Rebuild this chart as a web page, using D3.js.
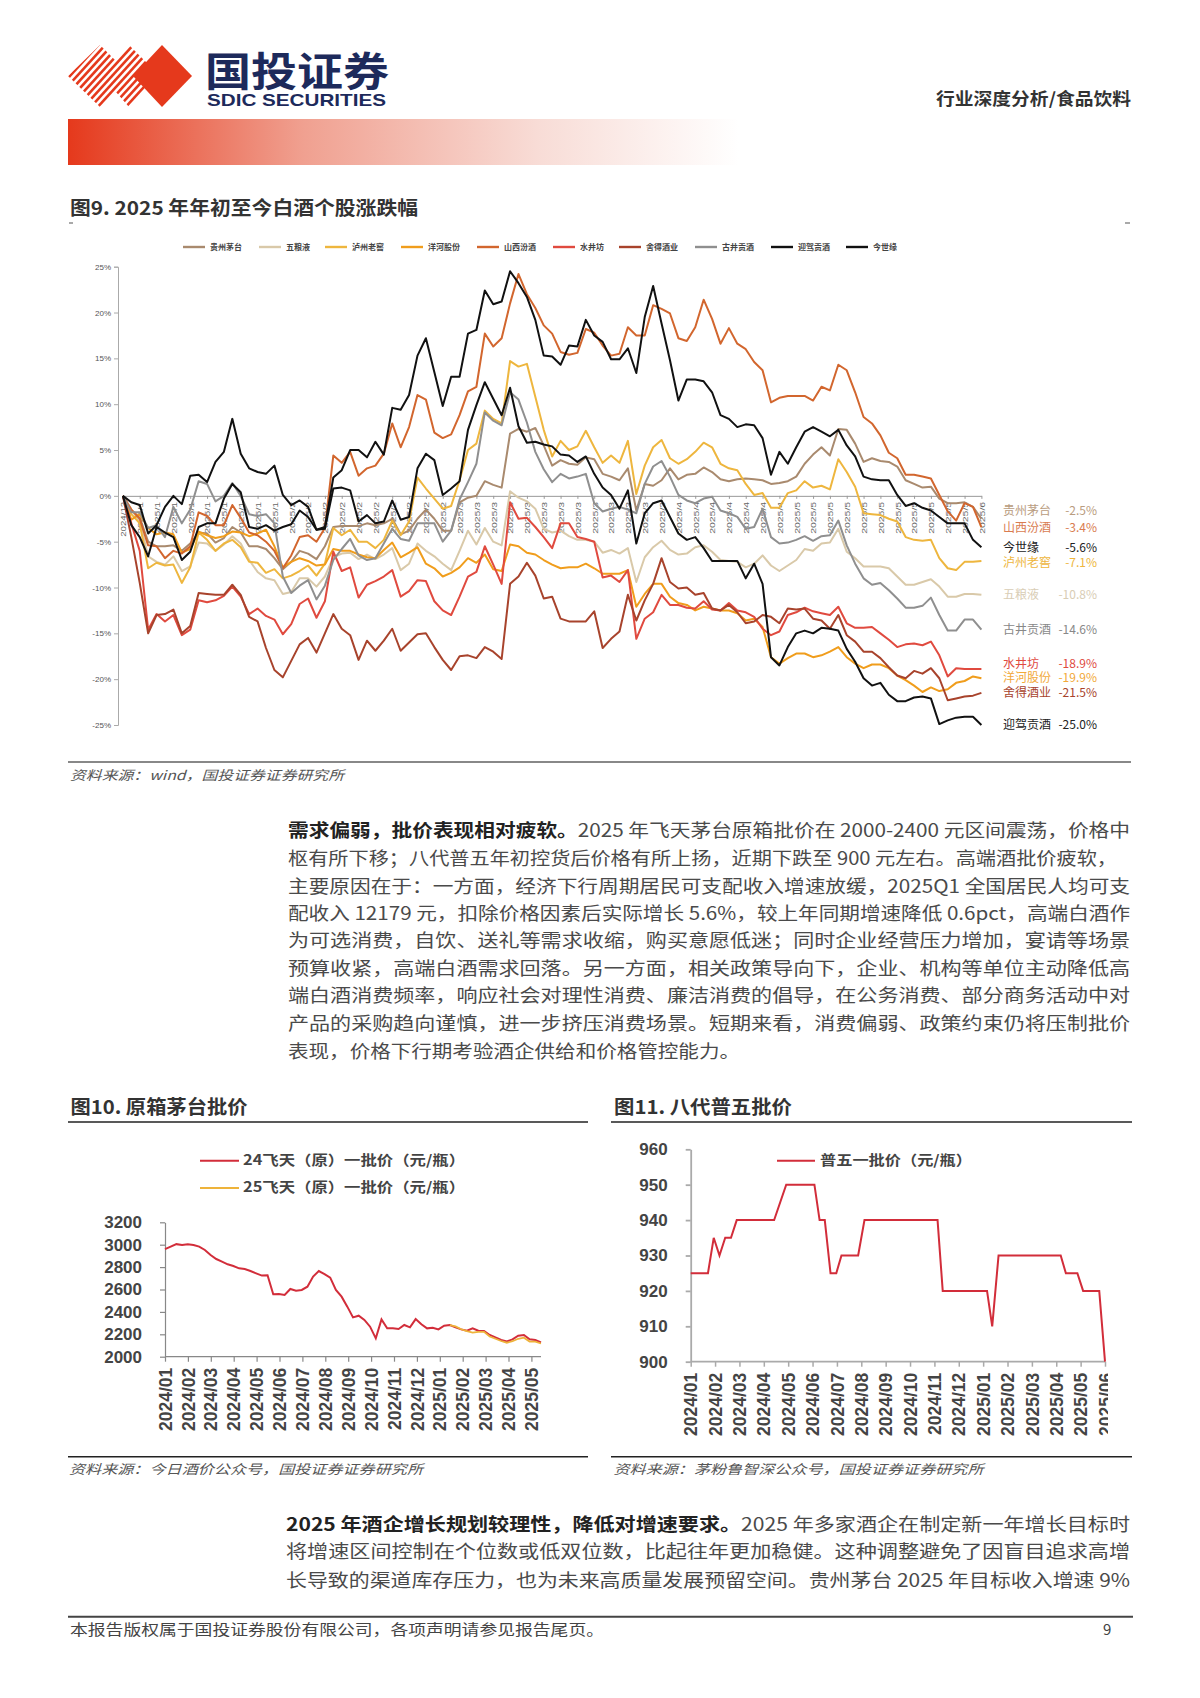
<!DOCTYPE html>
<html lang="zh"><head><meta charset="utf-8">
<script src="https://cdn.jsdelivr.net/npm/d3@7"></script>
<style>html,body{margin:0;padding:0;background:#fff}svg{display:block}
text{font-family:"Noto Sans CJK SC","Noto Sans",sans-serif}</style></head>
<body><svg id="page" width="1200" height="1698" viewBox="0 0 1200 1698"></svg>
<script>
// ---------- Figure 9: cumulative change (%) ----------
const names9 = ["贵州茅台","五粮液","泸州老窖","洋河股份","山西汾酒","水井坊","舍得酒业","古井贡酒","迎驾贡酒","今世缘"];
const colors9 = ["#a98a6e","#d9c9a9","#eeb63e","#f09d1c","#d2662e","#e04a3f","#a8432c","#8f8f8f","#111111","#111111"];
const maotai = [0,-1.5,-2.4,-5.0,-5.5,-5.5,-5.4,-6,-5.2,-4,-4.1,-5.1,-4.6,-3.4,-4,-5.5,-5.5,-5.8,-6.8,-8,-7.2,-6,-6.3,-6.9,-5.5,-3.4,-3.3,-3.3,-3.3,-3,-3.2,-3,-2.5,-4.2,-3.8,-2.5,-1.5,-2.5,-3.8,-3.8,-.7,-.2,0,1.6,1.2,.9,6.8,7.3,7,7.4,5.5,3.3,3.9,3.5,3.4,4.2,4,2.4,2.1,1.7,3,-1.6,1.3,1.1,1.7,3,1.8,2.3,2.4,3.1,2.6,1.8,1.6,1.8,1.9,1.8,1.7,1.3,1.4,1.6,2.1,3.5,4.5,5.3,4.4,7.3,7.2,5.7,3.7,4.1,3.8,3.7,3.2,1.7,1.3,.9,1,-.3,-.8,-.8,-.7,-1.2,-2.5];
const wuliangye = [0,-1.5,-2.8,-6.6,-7.2,-7.5,-6.6,-8.2,-7.7,-5.1,-5.2,-6,-5.3,-4.4,-5.2,-7,-8.3,-9,-9.2,-10.7,-10.5,-9,-9,-9.9,-8.8,-6.7,-6.3,-6.2,-6.9,-6.4,-6.9,-6.4,-5.7,-8.1,-7.4,-5.2,-6,-6.6,-7.4,-8.1,-6,-3.8,-5.3,-3.5,-5,-5.4,.5,-.2,-.6,-1.4,-3.6,-4,-3.8,-4.4,-4.8,-4.8,-5,-6.2,-5.9,-6.3,-5.7,-9.4,-6.7,-5.6,-4.9,-5.9,-6.4,-6.3,-5.6,-5.4,-6.1,-7,-7.1,-7.2,-7.8,-7.4,-6.5,-7.6,-8.2,-7.6,-7,-5.8,-6,-5.2,-5.1,-3.6,-6.1,-6.8,-7.7,-7.7,-7.7,-7.9,-8.8,-9.7,-9.7,-9.4,-9.1,-9.9,-11,-11,-10.7,-10.7,-10.8];
const luzhou = [0,-2,-3,-7.9,-7.3,-7.6,-7.5,-9.5,-7.8,-4,-4.8,-6,-5.2,-4.8,-5.6,-7.2,-7.3,-8.4,-8,-9,-8.7,-8.2,-7.6,-8.7,-7.4,-3.5,-4.3,-3.7,-5,-5,-5.7,-4.8,-2.7,-4.3,-2.8,2,.8,-.3,-1.4,-1.1,1.7,5,5.7,9.3,8.4,7.9,14.7,14.1,14.4,10.8,7.2,4.3,6,5,5.4,7.1,5.3,3.6,4.4,3.6,6,.2,3.3,5.3,6.1,4.1,3.5,4,4.8,5.8,5.3,3.5,3,2.8,1.3,.1,.3,-1.3,-1.3,.3,.6,1.6,.9,1.1,.7,4,2.6,1,-1.9,-2,-2.1,-2.5,-2.8,-4.5,-4.8,-4.9,-4.8,-6.8,-7.9,-8.1,-7.2,-7.2,-7.1];
const yanghe = [0,-2.6,-2,-3.5,-4.2,-4,-4.2,-6.2,-5.8,-3.9,-4.3,-4.6,-4.4,-3.9,-4,-4.4,-4.1,-3.7,-5.5,-7.8,-7.2,-6.8,-7.1,-7.6,-7.5,-5.8,-6,-6,-6.4,-6.7,-6.8,-5.9,-5.1,-6.7,-6.2,-5.6,-7.4,-7.9,-8.8,-8.4,-7.8,-6.8,-7.3,-6.4,-8,-8.2,-5.3,-5.5,-6.2,-6.4,-7,-7.5,-7.9,-7.8,-7.8,-7.4,-7.9,-8.5,-8.5,-8.5,-8.1,-12.1,-10.7,-9.6,-9.6,-11,-11.7,-11.9,-12.5,-12.1,-12.3,-12.5,-12.5,-12.8,-13.6,-13.4,-14.3,-17.6,-18.3,-17.7,-17.2,-17.2,-17.6,-17.4,-17,-16.5,-17.6,-18.3,-18.8,-18.4,-18.4,-18.8,-19.6,-20.1,-20.7,-21.4,-20.9,-21.3,-21.1,-20.4,-20.2,-19.7,-19.9];
const fenjiu = [0,-1.5,-2.5,-5.4,-5.5,-6.8,-6,-6.3,-5.5,-1.8,-2.2,-3.2,-3.2,-1,-2.4,-4,-4.3,-5,-6,-7.9,-6.5,-4.5,-4.3,-5,-3.5,4.4,3.6,4.8,2.2,3,3.3,4.6,7.9,5.3,7.5,11,10.5,6.9,6.3,6.7,8.8,11.4,11.9,17.7,16.3,17.2,21,24.2,22,20.5,18.6,17.7,15.7,15.4,15.6,18.2,17.8,16.4,15.3,15.5,18.4,17.5,17.5,20.8,20.4,19.9,17.2,16.9,18.4,21.4,19.3,16.6,18.3,16.6,16,14.6,13.7,10.2,10.7,10.9,10.9,10.9,10.4,11.9,11.5,14.3,13.7,11.3,8.6,7.9,6.6,4.7,4.1,2.3,2.3,2.1,1.9,.1,-1.7,-2.7,-.8,-1.2,-3.4];
const shuijingfang = [0,-3,-6,-14.6,-12.9,-13.7,-13,-15.2,-14.6,-11.4,-11.6,-11.4,-10.9,-9.9,-11,-12.9,-12.3,-13.1,-13.5,-15.1,-14,-11.8,-11.2,-13.3,-11.5,-6.1,-8.2,-7.8,-11.1,-9.7,-9.3,-8.8,-8.1,-11,-10.4,-9.2,-9.3,-11.5,-12.5,-13,-11,-8.8,-8.3,-5.5,-7.5,-9.6,-.7,-2.5,-2.4,-3.4,-4.5,-5.7,-3,-3,-4.5,-4.7,-5,-8.9,-8.7,-9.4,-8.1,-15.6,-13.4,-12.7,-10.8,-11.9,-11.9,-12.2,-12.3,-11.5,-12.4,-12.5,-11.7,-12.5,-12.7,-13.2,-14.5,-15.2,-14.8,-13,-12.7,-12.2,-12.6,-12.8,-13,-12.1,-13.9,-14.4,-14.4,-14.3,-15,-15.7,-16.5,-16.2,-16.1,-16.3,-15.9,-17.4,-19.7,-18.8,-18.9,-18.9,-18.9];
const shede = [0,-4.5,-9.5,-15,-13,-12.9,-12.4,-15,-14.2,-10.6,-10.7,-10.8,-10.8,-9.7,-10.8,-13.2,-13.7,-16.6,-19,-19.8,-18,-16.2,-15.5,-17.1,-15,-12.9,-14.5,-15.2,-17.9,-15.8,-16.9,-15.8,-14.5,-16.9,-16,-15.1,-15,-16.5,-17.9,-19,-17.5,-17.4,-17.7,-16.5,-17,-17.8,-9.6,-8.8,-7.3,-8.7,-11.2,-11,-13.4,-13.7,-13.7,-13.7,-12.6,-16.6,-15.6,-14.8,-10.8,-13.6,-11.4,-9.6,-6.8,-9.4,-10.1,-10,-10.8,-10.6,-12.3,-12.5,-11.9,-12.7,-13.9,-13.7,-13,-13.2,-13.9,-12.3,-12.4,-12.3,-13.4,-13.6,-14.5,-13,-15.2,-15.9,-17,-17,-17.7,-18.7,-19.6,-19.9,-19.1,-19.4,-18.8,-19.9,-22.3,-22.1,-21.9,-21.8,-21.5];
const gujing = [0,-1.8,-1.8,-3.5,-3.2,-4.5,-1.2,-3,-1.5,1.6,1.3,-.6,0,1.4,0,-2,-2.2,-2,-3,-8.8,-10.6,-9.8,-9.2,-11.3,-9.8,-7,-5.8,-4.7,-6.5,-7,-6.8,-5.2,-3.6,-4.7,-4.9,-3,-3,-3,-5,-3.8,-.4,1.5,3.5,9.1,8.2,7.7,11.3,10.5,8,4.8,2.9,1.5,2.4,1.9,2.1,2.4,-.8,-1.7,-1.4,-1.2,-1.5,-1.9,1.3,3.2,3.8,2.1,.1,-.5,-.8,-.3,-.1,-1.6,-1.9,-2.3,-3.6,-3.4,-1.4,-4.5,-5.2,-5.1,-4.8,-4.4,-4.9,-4.4,-4.3,-2.7,-5.4,-7.4,-9,-9.7,-9.5,-10.3,-11.2,-12.2,-12.2,-12,-11.1,-13,-14.7,-14.7,-13.5,-13.5,-14.6];
const yingjia = [0,-3.2,-4.5,-6.6,-3.4,-4,-4.5,-7,-6.1,-3.4,-3,-3,-.3,1.3,.4,-3.4,-3.6,-3.2,-3.8,-3.4,-3.1,-1.6,-2.3,-3.7,-3.6,.8,.9,.6,-2.8,-2.1,-3,-2.8,-.5,-2.6,-2.3,3,4.6,3.9,.1,.8,1.6,7.2,9.9,12.4,10.6,8.8,11.8,7.6,5.8,5.9,5.6,5.4,4.5,4.4,3.7,4.3,2.4,.9,.1,-1.4,.6,-5.2,-1.9,-.8,-.5,-2.3,-4.1,-4.8,-4.5,-5.7,-7.1,-7.1,-7.1,-7.1,-9,-7.4,-9.6,-17.6,-18.5,-16.5,-15,-14.7,-15,-14.4,-14.5,-14.7,-16.7,-18.1,-19.9,-20.7,-20.4,-21.7,-22.4,-22.4,-22,-21.9,-22.1,-24.9,-24.5,-24.2,-24.1,-24.1,-25];
const jinshiyuan = [0,-.7,-1,-4.1,-3.2,-1.2,0,-.9,2.2,2.3,1.5,3.7,4.8,8.4,4.6,3,2.6,2.4,3.3,.1,-1,-.5,-1.2,-3.7,-3.4,2,2.8,5,5,4.2,5.9,4.5,9.6,9.4,11,15.3,17.2,13.5,9.8,13,13,17.7,18.1,22.4,20.9,21.2,24.5,23.2,21.7,19.2,15.3,15.2,14.3,16.4,16.3,19.2,17.5,16.8,14.9,14.9,16.1,13.4,19.5,22.9,18.8,14.8,10.4,12.7,12.7,12.5,11.3,8.8,8.4,7.5,7.8,7.7,6.3,2.3,4.8,3.5,5.3,7,7.5,7,6.5,7.2,5.5,4.3,2.1,1.8,1.7,1.7,.1,-1.1,-.8,-1.3,-1.6,-2.3,-3,-3,-3,-4.8,-5.6];
const series9 = [maotai,wuliangye,luzhou,yanghe,fenjiu,shuijingfang,shede,gujing,yingjia,jinshiyuan];
const yTicks9 = [25,20,15,10,5,0,-5,-10,-15,-20,-25];
const xLabels9 = ["2024/12","2025/1","2025/1","2025/1","2025/1","2025/1","2025/1","2025/1","2025/1","2025/1","2025/2","2025/2","2025/2","2025/2","2025/2","2025/2","2025/2","2025/2","2025/2","2025/2","2025/3","2025/3","2025/3","2025/3","2025/3","2025/3","2025/3","2025/3","2025/3","2025/3","2025/3","2025/3","2025/3","2025/4","2025/4","2025/4","2025/4","2025/4","2025/4","2025/4","2025/5","2025/5","2025/5","2025/5","2025/5","2025/5","2025/5","2025/5","2025/5","2025/5","2025/5","2025/6"];
// end-of-line labels, top to bottom
const endNames = ["贵州茅台","山西汾酒","今世缘","泸州老窖","五粮液","古井贡酒","水井坊","洋河股份","舍得酒业","迎驾贡酒"];
const endValues = ["-2.5%","-3.4%","-5.6%","-7.1%","-10.8%","-14.6%","-18.9%","-19.9%","-21.5%","-25.0%"];
const endColors = ["#b99c80","#d97c50","#222","#eeb63e","#d9cdb5","#888","#e04a3f","#f2a93a","#a8432c","#222"];
const endY = [511.7,528.3,548.3,563.3,595.7,630,664,678,693,725];

// ---------- Figure 10: Moutai wholesale price ----------
const months10 = ["2024/01","2024/02","2024/03","2024/04","2024/05","2024/06","2024/07","2024/08","2024/09","2024/10","2024/11","2024/12","2025/01","2025/02","2025/03","2025/04","2025/05"];
const yTicks10 = [2000,2200,2400,2600,2800,3000,3200];
const feitian24 = [2960,2983,3005,2998,3005,2998,2983,2953,2908,2872,2849,2825,2810,2789,2783,2765,2744,2724,2727,2557,2560,2551,2605,2590,2596,2625,2715,2765,2738,2706,2596,2536,2447,2351,2366,2328,2268,2164,2333,2253,2253,2247,2283,2262,2336,2289,2253,2259,2244,2277,2283,2262,2244,2232,2253,2232,2229,2194,2173,2149,2137,2155,2188,2194,2155,2149,2128];
const feitian25Start = 50;
const feitian25 = [2283,2270,2245,2228,2215,2222,2222,2180,2160,2140,2125,2138,2160,2170,2135,2135,2118];
const legend10 = ["24飞天（原）一批价（元/瓶）","25飞天（原）一批价（元/瓶）"];

// ---------- Figure 11: Wuliangye wholesale price ----------
const months11 = ["2024/01","2024/02","2024/03","2024/04","2024/05","2024/06","2024/07","2024/08","2024/09","2024/10","2024/11","2024/12","2025/01","2025/02","2025/03","2025/04","2025/05","2025/06"];
const yTicks11 = [900,910,920,930,940,950,960];
const puwuWeek = [0,3,4,5,6,7,8,14.5,16.6,21.5,22.4,23.3,24.3,25.3,26.2,29.1,30.2,42.9,43.8,51.5,52.4,53.5,64.3,65.2,67.2,68.2,71,72];
const puwuPrice = [925,925,935,930,935,935,940,940,950,950,940,940,925,925,930,930,940,940,920,920,910,930,930,925,925,920,920,900];

// ---------- Text ----------
const para1 = [
 ["需求偏弱，批价表现相对疲软。","2025 年飞天茅台原箱批价在 2000-2400 元区间震荡，价格中"],
 ["","枢有所下移；八代普五年初控货后价格有所上扬，近期下跌至 900 元左右。高端酒批价疲软，"],
 ["","主要原因在于：一方面，经济下行周期居民可支配收入增速放缓，2025Q1 全国居民人均可支"],
 ["","配收入 12179 元，扣除价格因素后实际增长 5.6%，较上年同期增速降低 0.6pct，高端白酒作"],
 ["","为可选消费，自饮、送礼等需求收缩，购买意愿低迷；同时企业经营压力增加，宴请等场景"],
 ["","预算收紧，高端白酒需求回落。另一方面，相关政策导向下，企业、机构等单位主动降低高"],
 ["","端白酒消费频率，响应社会对理性消费、廉洁消费的倡导，在公务消费、部分商务活动中对"],
 ["","产品的采购趋向谨慎，进一步挤压消费场景。短期来看，消费偏弱、政策约束仍将压制批价"],
 ["","表现，价格下行期考验酒企供给和价格管控能力。"]];
const para2 = [
 ["2025 年酒企增长规划较理性，降低对增速要求。","2025 年多家酒企在制定新一年增长目标时"],
 ["","将增速区间控制在个位数或低双位数，比起往年更加稳健。这种调整避免了因盲目追求高增"],
 ["","长导致的渠道库存压力，也为未来高质量发展预留空间。贵州茅台 2025 年目标收入增速 9%"]];

const svg = d3.select("#page");
const TXT = "#3c3c3c";
const LAT = "'Liberation Sans',Arial,sans-serif";
const NUDGE = -2; // CJK glyphs sit low under central baseline
function label(x,y,s,o={}){
  const t = svg.append("text").attr("x",x).attr("y",y+NUDGE).attr("dominant-baseline","central")
    .attr("font-size",o.size||14).attr("font-weight",o.weight||400).attr("fill",o.fill||TXT)
    .attr("text-anchor",o.anchor||"start").text(s);
  if(o.italic) t.attr("font-style","italic");
  if(o.len) t.attr("textLength",o.len).attr("lengthAdjust","spacingAndGlyphs");
  if(o.family) t.style("font-family",o.family);
  return t;
}
function rule(x1,x2,y,c,w){svg.append("line").attr("x1",x1).attr("x2",x2).attr("y1",y).attr("y2",y).attr("stroke",c).attr("stroke-width",w);}

// ---------- Header ----------
const defs = svg.append("defs");
const grad = defs.append("linearGradient").attr("id","barGrad");
grad.append("stop").attr("offset","0%").attr("stop-color","#e5391c");
grad.append("stop").attr("offset","35%").attr("stop-color","#f0a090");
grad.append("stop").attr("offset","70%").attr("stop-color","#f8dcd6");
grad.append("stop").attr("offset","100%").attr("stop-color","#ffffff");
svg.append("rect").attr("x",68).attr("y",119).attr("width",671).attr("height",46).attr("fill","url(#barGrad)");
defs.append("clipPath").attr("id","logoClip").append("path")
  .attr("d","M68,76 L100,45 L116,61 L129,45 L160,76 L129,107 L116,92 L100,107 Z");
const lg = svg.append("g").attr("clip-path","url(#logoClip)");
d3.range(-10,16).forEach(k=>{
  lg.append("line").attr("x1",60+k*7).attr("y1",110).attr("x2",60+k*7+62).attr("y2",42)
    .attr("stroke","#e5391c").attr("stroke-width",2.6);
});
svg.append("path").attr("d","M162,45 L192,76 L162,107 L133,76 Z").attr("fill","#e5391c");
label(205,71,"国投证券",{size:40,weight:700,fill:"#1d2a5b",len:184});
label(207,102,"SDIC SECURITIES",{size:17,weight:700,fill:"#1d2a5b",len:179,family:LAT});
label(936,99.5,"行业深度分析/食品饮料",{size:17,weight:700,len:195,fill:"#333"});

// ---------- Figure 9 ----------
label(70,208,"图9. 2025 年年初至今白酒个股涨跌幅",{size:19,weight:700,len:348,fill:"#333"});
svg.append("rect").attr("x",69).attr("y",222.5).attr("width",4).attr("height",1).attr("fill","#555");
svg.append("rect").attr("x",1125).attr("y",222.5).attr("width",5).attr("height",1).attr("fill","#555");

const legX9 = [183,259,325,401,477,553,619,695,771,846];
names9.forEach((n,i)=>{
  const x = legX9[i];
  svg.append("line").attr("x1",x).attr("x2",x+22).attr("y1",247).attr("y2",247).attr("stroke",colors9[i]).attr("stroke-width",2.4);
  label(x+27,248,n,{size:8,weight:700,fill:"#444"});
});

const x9 = d3.scalePoint().domain(d3.range(maotai.length)).range([122.9,981.4]);
const y9 = d3.scaleLinear().domain([-25,25]).range([725,266.7]);
const axY9 = svg.append("g").attr("transform","translate(118,0)")
  .call(d3.axisLeft(y9).tickValues(yTicks9).tickFormat(d=>d+"%").tickSize(4).tickPadding(3));
axY9.selectAll("path,line").attr("stroke","#aaa").attr("stroke-width",1);
axY9.selectAll("text").attr("font-size",8).attr("fill","#555").style("font-family",LAT);
const evenIdx = x9.domain().filter(i=>i%2===0);
const axX9 = svg.append("g").attr("transform",`translate(0,${y9(0)})`)
  .call(d3.axisBottom(x9).tickValues(evenIdx).tickFormat(i=>xLabels9[i/2]).tickSize(3).tickSizeOuter(0));
axX9.selectAll("path,line").attr("stroke","#999").attr("stroke-width",1);
axX9.selectAll("text").attr("transform","rotate(-90)").attr("text-anchor","end").attr("x",-6).attr("y",0).attr("dy","0.35em")
  .attr("font-size",8).attr("fill","#666").style("font-family",LAT)
  .attr("textLength",d=>xLabels9[d/2].length===7?35:32).attr("lengthAdjust","spacingAndGlyphs");
const line9 = d3.line().x((d,i)=>x9(i)).y(d=>y9(d));
series9.forEach((s,i)=>{
  svg.append("path").datum(s).attr("d",line9).attr("fill","none").attr("stroke",colors9[i]).attr("stroke-width",2).attr("stroke-linejoin","round");
});
endNames.forEach((n,i)=>{
  label(1003,endY[i],n,{size:12,fill:endColors[i]});
  label(1097,endY[i],endValues[i],{size:12,fill:endColors[i],anchor:"end"});
});
rule(68,1131,762,"#888",2);
label(70,776,"资料来源：wind，国投证券证券研究所",{size:13,italic:true,len:274,fill:"#555"});

// ---------- Paragraphs ----------
function para(lines,x,ys,lens){
  lines.forEach((l,i)=>{
    const t = svg.append("text").attr("x",x).attr("y",ys[i]+NUDGE).attr("dominant-baseline","central").attr("font-size",18).attr("fill","#4a4a4a")
      .attr("textLength",lens[i]).attr("lengthAdjust","spacingAndGlyphs");
    if(l[0]) t.append("tspan").attr("font-weight",700).attr("fill","#222").text(l[0]);
    t.append("tspan").text(l[1]);
  });
}
para(para1,288,[830.7,859,886.7,914,941,969,996,1024,1051.7],[842,829,842,842,842,842,842,842,452]);
para(para2,286,[1525,1552,1581],[844,844,844]);

// ---------- Figure 10 ----------
label(70.5,1107,"图10. 原箱茅台批价",{size:19,weight:700,len:177,fill:"#333"});
rule(68,588,1122,"#222",1.5);
const x10 = d3.scaleLinear().domain([0,feitian24.length-1]).range([165,541]);
const m10 = d3.scalePoint().domain(months10).range([165,165+22.9*16]);
const y10 = d3.scaleLinear().domain([2000,3200]).range([1356.7,1222.3]);
const ay10 = svg.append("g").attr("transform","translate(165,0)").call(d3.axisLeft(y10).tickValues(yTicks10).tickFormat(d3.format("d")).tickSize(5).tickPadding(18).tickSizeOuter(0));
ay10.selectAll("path,line").attr("stroke","#888").attr("stroke-width",1.2);
ay10.selectAll("text").attr("font-size",17).attr("font-weight",700).attr("fill","#444").style("font-family",LAT);
const ax10 = svg.append("g").attr("transform","translate(0,1356.7)").call(d3.axisBottom(m10).tickSize(5).tickSizeOuter(0));
svg.append("line").attr("x1",165).attr("x2",541).attr("y1",1356.7).attr("y2",1356.7).attr("stroke","#888").attr("stroke-width",1.2);
ax10.selectAll("path").attr("stroke","none");
ax10.selectAll("line").attr("stroke","#888").attr("stroke-width",1.2);
ax10.selectAll("text").attr("transform","rotate(-90)").attr("text-anchor","end").attr("x",-11).attr("y",0).attr("dy","0.35em")
  .attr("font-size",17.5).attr("font-weight",700).attr("fill","#444").style("font-family",LAT);
const line10 = d3.line().x(d=>x10(d[0])).y(d=>y10(d[1]));
svg.append("path").datum(feitian24.map((v,i)=>[i,v])).attr("d",line10).attr("fill","none").attr("stroke","#d22d3a").attr("stroke-width",2);
svg.append("path").datum(feitian25.map((v,i)=>[i+feitian25Start,v])).attr("d",line10).attr("fill","none").attr("stroke","#eeb33a").attr("stroke-width",1.8);
[["#d22d3a",1160.7],["#eeb33a",1188]].forEach((d,i)=>{
  svg.append("line").attr("x1",200).attr("x2",239).attr("y1",d[1]).attr("y2",d[1]).attr("stroke",d[0]).attr("stroke-width",2);
  label(243,d[1],legend10[i],{size:14,weight:700,len:222,fill:"#444"});
});
rule(68,588,1456.7,"#222",1.5);
label(69,1470,"资料来源：今日酒价公众号，国投证券证券研究所",{size:13,italic:true,len:354,fill:"#555"});

// ---------- Figure 11 ----------
label(614,1107,"图11. 八代普五批价",{size:19,weight:700,len:178,fill:"#333"});
rule(611,1132,1122,"#222",1.5);
const x11 = d3.scaleLinear().domain([0,72]).range([690.7,1105]);
const m11 = d3.scalePoint().domain(months11).range([690.7,1105]);
const y11 = d3.scaleLinear().domain([900,960]).range([1361.7,1149.3]);
const ay11 = svg.append("g").attr("transform","translate(690.7,0)").call(d3.axisLeft(y11).tickValues(yTicks11).tickSize(5).tickPadding(18).tickSizeOuter(0));
ay11.selectAll("path,line").attr("stroke","#aaa").attr("stroke-width",1.8);
ay11.selectAll("text").attr("font-size",17).attr("font-weight",700).attr("fill","#444").style("font-family",LAT);
defs.append("clipPath").attr("id","clip11").append("rect").attr("x",670).attr("y",1360).attr("width",438).attr("height",80);
const ax11 = svg.append("g").attr("clip-path","url(#clip11)").append("g").attr("transform","translate(0,1361.7)").call(d3.axisBottom(m11).tickSize(5).tickSizeOuter(0));
svg.append("line").attr("x1",690.7).attr("x2",1105).attr("y1",1361.7).attr("y2",1361.7).attr("stroke","#aaa").attr("stroke-width",1.8);
ax11.selectAll("path").attr("stroke","none");
ax11.selectAll("line").attr("stroke","#aaa").attr("stroke-width",1.5);
ax11.selectAll("text").attr("transform","rotate(-90)").attr("text-anchor","end").attr("x",-11).attr("y",0).attr("dy","0.35em")
  .attr("font-size",17.5).attr("font-weight",700).attr("fill","#444").style("font-family",LAT);
svg.append("path").datum(puwuWeek.map((w,i)=>[w,puwuPrice[i]])).attr("d",d3.line().x(d=>x11(d[0])).y(d=>y11(d[1])))
  .attr("fill","none").attr("stroke","#d22d3a").attr("stroke-width",2);
svg.append("line").attr("x1",777).attr("x2",815).attr("y1",1160.7).attr("y2",1160.7).attr("stroke","#d22d3a").attr("stroke-width",2);
label(820,1160.7,"普五一批价（元/瓶）",{size:14,weight:700,len:152,fill:"#444"});
rule(611,1132,1456.7,"#222",1.5);
label(613.5,1470,"资料来源：茅粉鲁智深公众号，国投证券证券研究所",{size:13,italic:true,len:370,fill:"#555"});

// ---------- Footer ----------
rule(68,1133,1616.7,"#444",2);
label(70,1630.7,"本报告版权属于国投证券股份有限公司，各项声明请参见报告尾页。",{size:15,len:534,fill:"#444"});
label(1103,1630.7,"9",{size:15,fill:"#444"});
</script></body></html>
